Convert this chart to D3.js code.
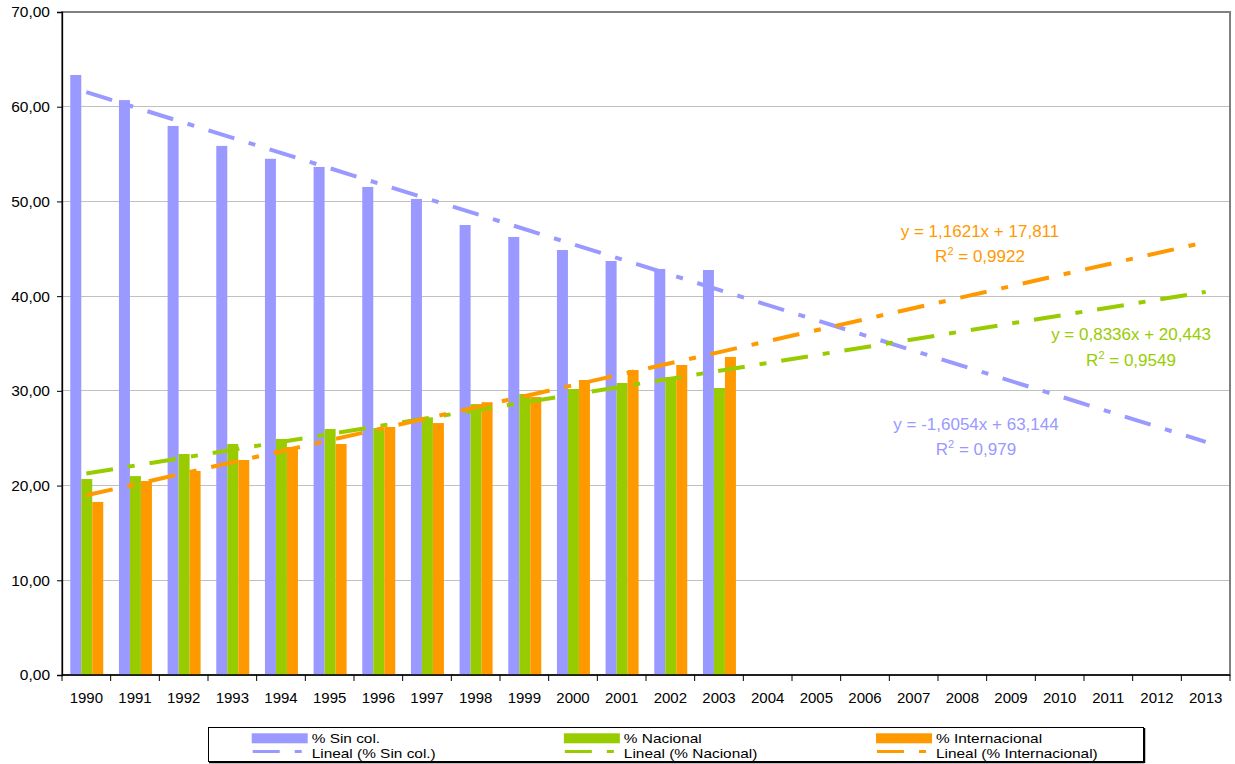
<!DOCTYPE html>
<html>
<head>
<meta charset="utf-8">
<script src="https://cdn.jsdelivr.net/npm/d3@7"></script>
<style>
  html, body { margin: 0; padding: 0; background: #fff; }
  svg { display: block; font-family: "Liberation Sans", Arial, sans-serif; }
</style>
</head>
<body>
<svg id="chart" width="1235" height="764"></svg>
<script>
// ---- data ----
const years = ["1990","1991","1992","1993","1994","1995","1996","1997","1998","1999","2000","2001","2002","2003","2004","2005","2006","2007","2008","2009","2010","2011","2012","2013"];
const seriesNames = ["% Sin col.", "% Nacional", "% Internacional"];
const trendNames = ["Lineal (% Sin col.)", "Lineal (% Nacional)", "Lineal (% Internacional)"];
const sinCol = [63.35, 60.70, 57.97, 55.86, 54.50, 53.64, 51.53, 50.26, 47.51, 46.25, 44.87, 43.71, 42.87, 42.76];
const nacional = [20.69, 21.00, 23.33, 24.39, 24.92, 25.97, 26.08, 27.20, 28.60, 29.67, 30.20, 30.83, 31.46, 30.30];
const internacional = [18.27, 20.48, 21.54, 22.70, 24.07, 24.39, 26.19, 26.60, 28.80, 29.35, 31.15, 32.20, 32.73, 33.58];
const trendSlopes = [-1.6054, 0.8336, 1.1621];
const trendIntercepts = [63.144, 20.443, 17.811];
const trendEquations = ["y = -1,6054x + 63,144", "y = 0,8336x + 20,443", "y = 1,1621x + 17,811"];
const trendR2 = ["0,979", "0,9549", "0,9922"];
const yTicks = [0, 10, 20, 30, 40, 50, 60, 70];

// ---- styles ----
const colors = ["#9999FF", "#99CC00", "#FF9900"];
const dash = "27,15,7,15";

const svg = d3.select("#chart");
const L = 62, R = 1230, T = 12, B = 675;

const x0 = d3.scaleBand().domain(years).range([L, R]).padding(0);
const bw = x0.bandwidth();
const x1 = d3.scaleBand().domain(seriesNames).range([bw * 0.17, bw * 0.848]).padding(0);
const y = d3.scaleLinear().domain([0, 70]).range([B, T]);
const xt = d3.scaleLinear().domain([1, years.length]).range([x0(years[0]) + bw / 2, x0(years[years.length - 1]) + bw / 2]);

const loc = d3.formatLocale({decimal: ",", thousands: ".", grouping: [3], currency: ["", ""]});
const fmt = loc.format(".2f");

// gridlines
svg.append("g").selectAll("line").data(yTicks.filter(d => d > 0 && d < 70)).join("line")
  .attr("x1", L).attr("x2", R).attr("y1", d => y(d)).attr("y2", d => y(d))
  .attr("stroke", "#C0C0C0").attr("stroke-width", 1).attr("shape-rendering", "crispEdges");

// plot border
svg.append("rect").attr("x", L).attr("y", T).attr("width", R - L).attr("height", B - T)
  .attr("fill", "none").attr("stroke", "#808080").attr("stroke-width", 2);

// bars
const seriesData = [sinCol, nacional, internacional];
seriesData.forEach((vals, si) => {
  svg.append("g").selectAll("rect").data(vals).join("rect")
    .attr("x", (d, i) => x0(years[i]) + x1(seriesNames[si]))
    .attr("width", x1.bandwidth())
    .attr("y", d => y(d))
    .attr("height", d => B - y(d))
    .attr("fill", colors[si]);
});

// trend lines
const line = d3.line().x(d => xt(d[0])).y(d => y(d[1]));
trendSlopes.forEach((m, i) => {
  const pts = [[1, m * 1 + trendIntercepts[i]], [years.length, m * years.length + trendIntercepts[i]]];
  svg.append("path").attr("d", line(pts))
    .attr("fill", "none").attr("stroke", colors[i]).attr("stroke-width", 4)
    .attr("stroke-dasharray", dash);
});

// y axis
const yAxis = svg.append("g").attr("transform", `translate(${L},0)`)
  .call(d3.axisLeft(y).tickValues(yTicks).tickFormat(fmt).tickSize(5).tickPadding(7));
yAxis.select(".domain").attr("stroke", "#000").attr("stroke-width", 1.3);
yAxis.selectAll(".tick line").attr("stroke", "#000");
yAxis.selectAll("text").attr("font-size", "15.5px").attr("fill", "#000")
  .attr("font-family", "Liberation Sans, Arial, sans-serif");

// x axis: ticks at boundaries, labels centered
const xg = svg.append("g");
xg.append("line").attr("x1", L).attr("x2", R).attr("y1", B).attr("y2", B)
  .attr("stroke", "#000").attr("stroke-width", 1.3);
const bounds = d3.range(years.length + 1).map(k => L + k * bw);
xg.selectAll("line.t").data(bounds).join("line").attr("class", "t")
  .attr("x1", d => d).attr("x2", d => d).attr("y1", B).attr("y2", B + 6)
  .attr("stroke", "#000").attr("stroke-width", 1);
xg.selectAll("text").data(years).join("text")
  .attr("x", d => x0(d) + bw / 2).attr("y", 703)
  .attr("text-anchor", "middle").attr("font-size", "15px").attr("fill", "#000")
  .text(d => d);

// equation labels
const eqPos = [[976, 430, 455], [1131, 340, 366], [980, 237, 262]];
eqPos.forEach((p, i) => {
  svg.append("text").attr("x", p[0]).attr("y", p[1]).attr("text-anchor", "middle")
    .attr("font-size", "17px").attr("fill", colors[i]).text(trendEquations[i]);
  const t = svg.append("text").attr("x", p[0]).attr("y", p[2]).attr("text-anchor", "middle")
    .attr("font-size", "17px").attr("fill", colors[i]);
  t.append("tspan").text("R");
  t.append("tspan").attr("font-size", "11px").attr("dy", -7).text("2");
  t.append("tspan").attr("dy", 7).text(" = " + trendR2[i]);
});

// legend
const lg = svg.append("g");
lg.append("rect").attr("x", 208.5).attr("y", 727.5).attr("width", 935).attr("height", 34)
  .attr("fill", "#fff").attr("stroke", "#000").attr("stroke-width", 1);
lg.append("line").attr("x1", 209).attr("x2", 1144.5).attr("y1", 762.5).attr("y2", 762.5).attr("stroke", "#000").attr("stroke-width", 1.5);
lg.append("line").attr("x1", 1144.5).attr("x2", 1144.5).attr("y1", 728).attr("y2", 763).attr("stroke", "#000").attr("stroke-width", 1.5);
function legendText(x, yy, s) {
  const t = lg.append("text").attr("x", x).attr("y", yy).attr("font-size", "13.5px").attr("fill", "#000").text(s);
  const w = t.node().getComputedTextLength();
  t.attr("textLength", w * 1.14).attr("lengthAdjust", "spacingAndGlyphs");
}
seriesNames.forEach((name, i) => {
  const sx = 251.7 + i * 312.15;
  lg.append("rect").attr("x", sx).attr("y", 733.3).attr("width", 56).attr("height", 10).attr("fill", colors[i]);
  legendText(sx + 60, 742.5, name);
  lg.append("line").attr("x1", sx + 1).attr("x2", sx + 51).attr("y1", 751.4).attr("y2", 751.4)
    .attr("stroke", colors[i]).attr("stroke-width", 3).attr("stroke-dasharray", dash);
  legendText(sx + 60, 757.5, trendNames[i]);
});
</script>
</body>
</html>
